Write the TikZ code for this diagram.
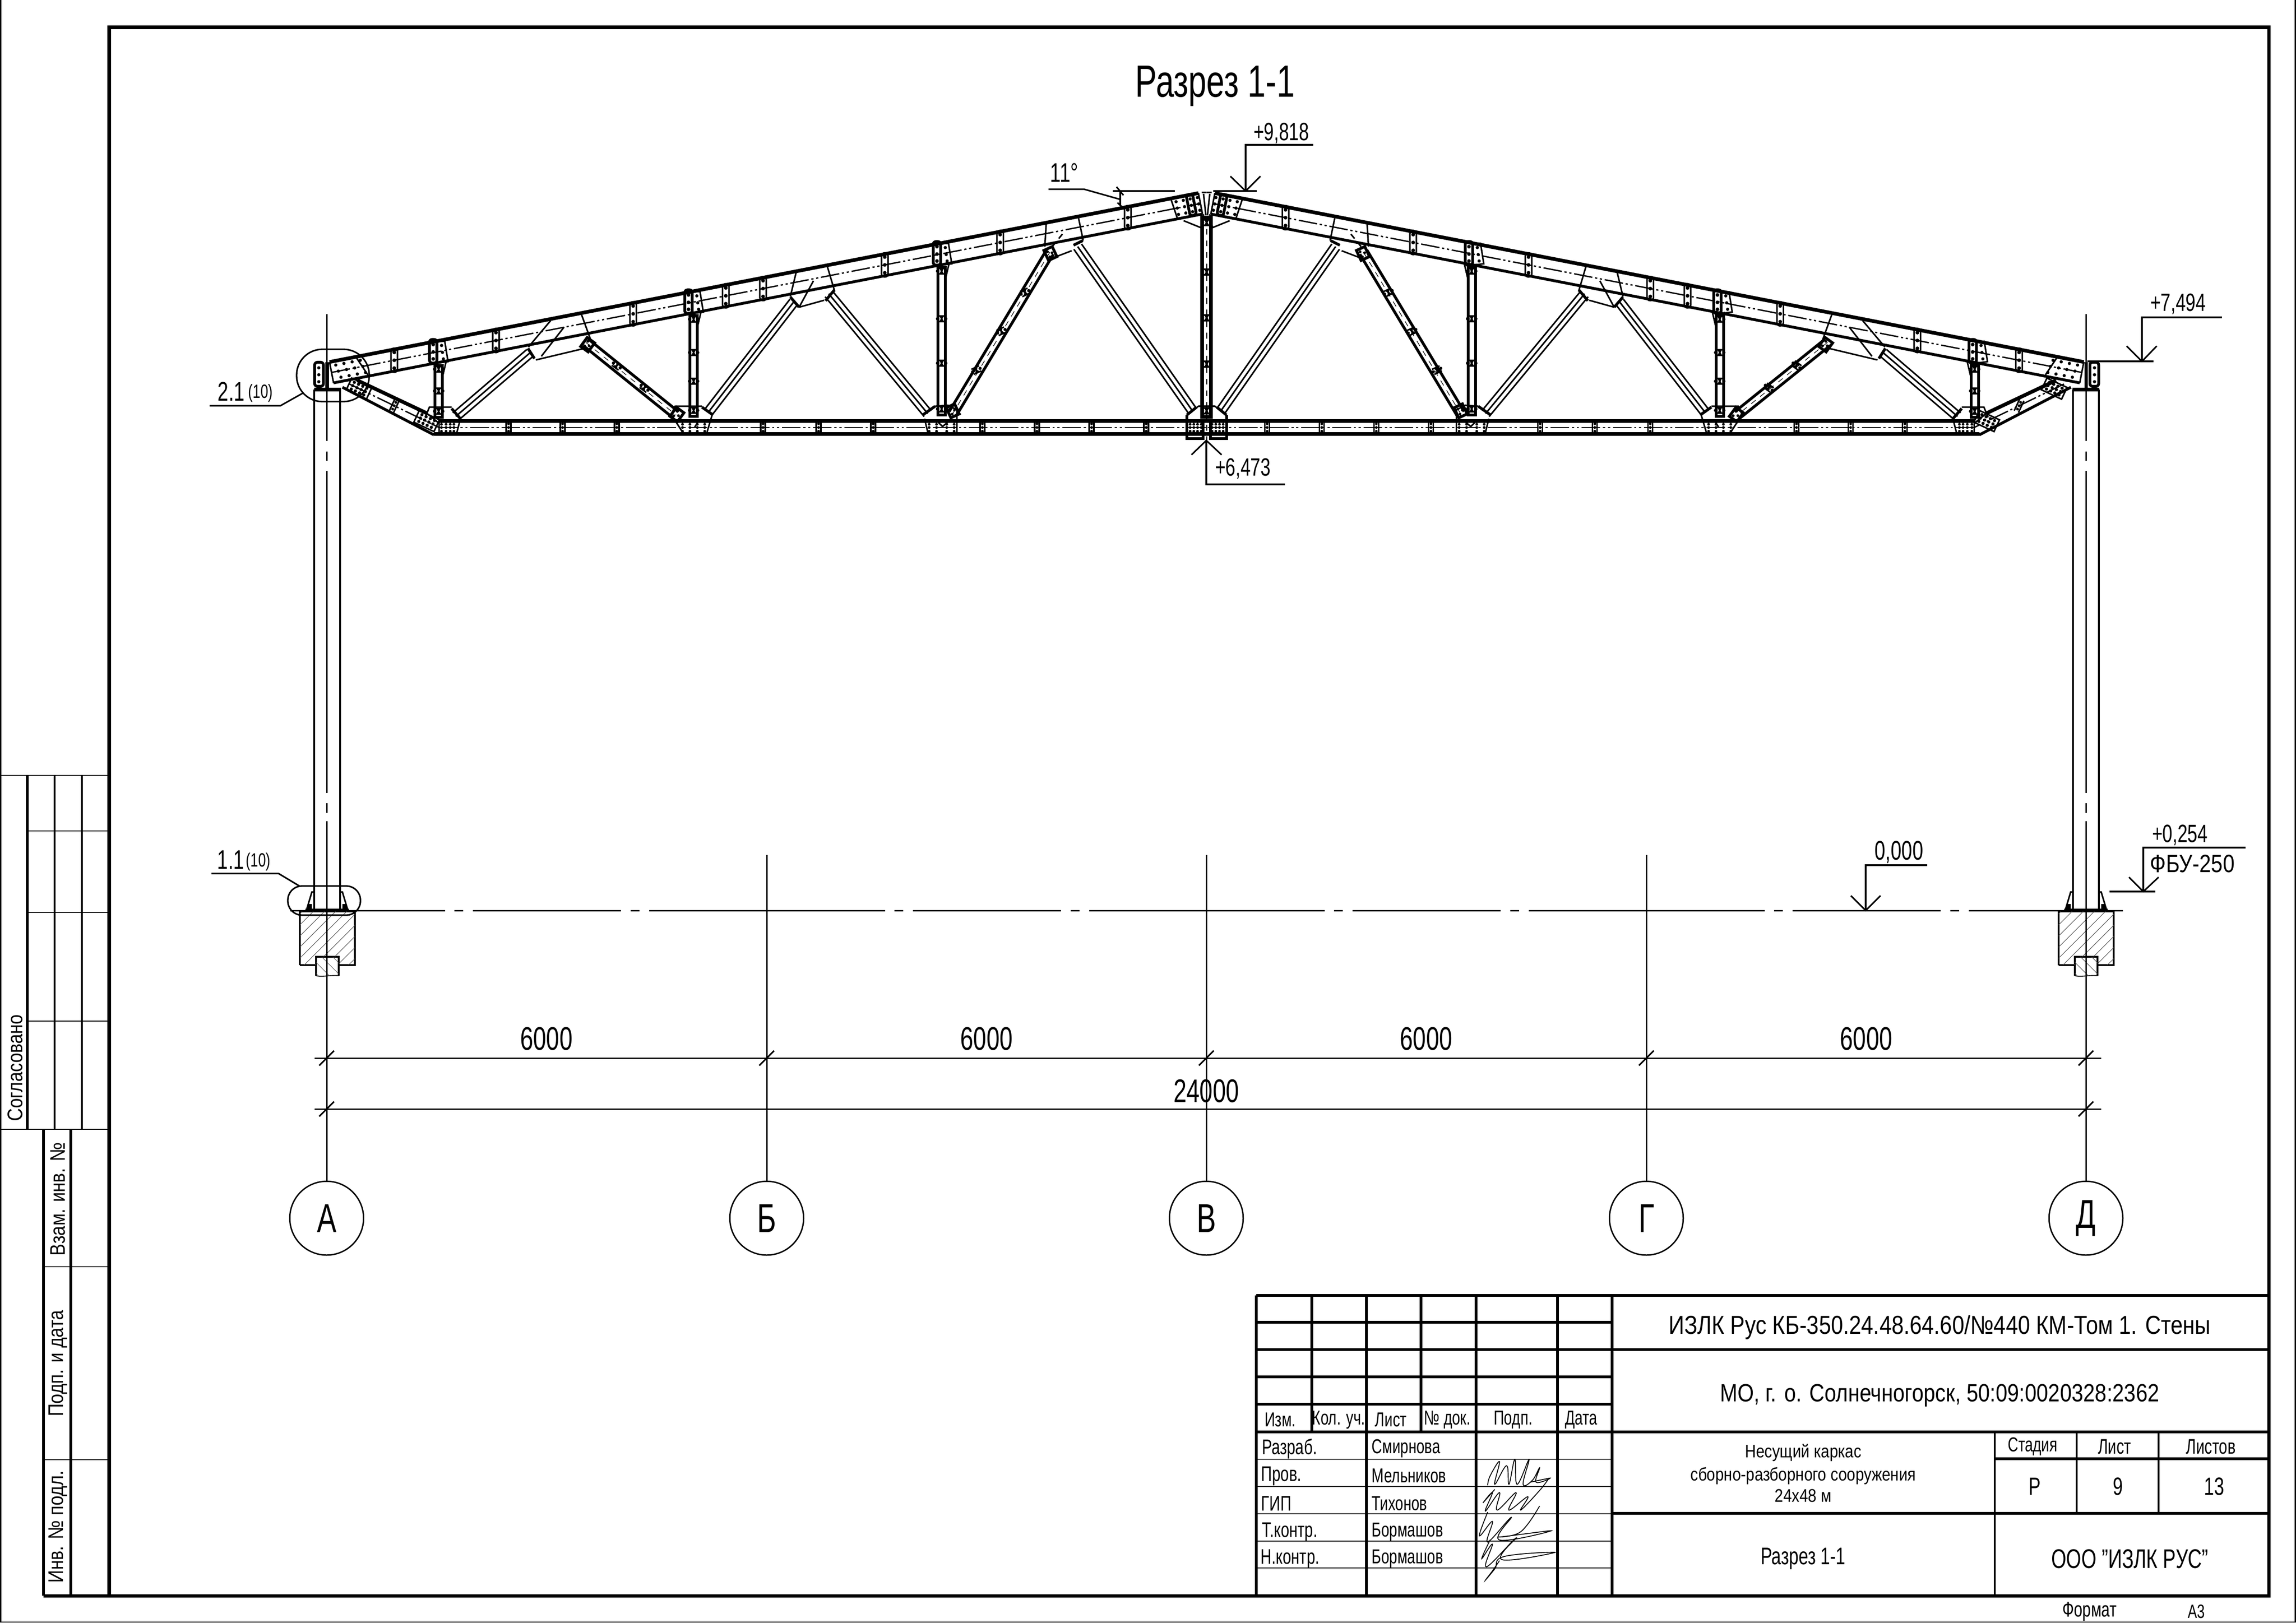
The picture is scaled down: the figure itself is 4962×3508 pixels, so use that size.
\documentclass[tikz,border=0pt]{standalone}
\usepackage{fontspec}
\setmainfont[FakeStretch=0.72]{Liberation Sans}
\newfontfamily\widefont[FakeStretch=0.84]{Liberation Sans}
\usetikzlibrary{calc}

% line weights
\tikzset{
  hairline/.style={line width=0.3pt},
  thinline/.style={line width=0.45pt},
  dimline/.style={line width=0.72pt},
  medline/.style={line width=0.8pt},
  gridline/.style={line width=1.25pt},
  heavyline/.style={line width=1.45pt},
  frameline/.style={line width=1.7pt},
  chordline/.style={line width=1.9pt},
  hatchline/.style={line width=0.25pt, black!70},
  axisline/.style={line width=0.72pt, dash pattern=on 58.9mm off 1.9mm on 1.7mm off 1.9mm, dash phase=35.7mm},
  chainline/.style={line width=0.7pt, dash pattern=on 3.4mm off 0.5mm on 0.4mm off 0.5mm on 0.4mm off 0.5mm},
  lbl/.style={inner sep=0pt, font=\fontsize{#1}{#1}\selectfont},
  lbl/.default=11,
  widelbl/.style={inner sep=0pt, font=\widefont\fontsize{#1}{#1}\selectfont},
  namelbl/.style={lbl=11, anchor=west},
  axisnode/.style={draw, line width=0.72pt, circle, minimum size=13.5mm, inner sep=0pt, font=\fontsize{21}{21}\selectfont},
  % bolted plates
  slot/.pic={
    \draw[medline, rounded corners=0.55mm] (-7,-26) rectangle (7,26);
    \fill (0,-17) circle (4) (0,0) circle (4) (0,17) circle (4);
  },
  dblslot/.pic={
    \draw[heavyline, rounded corners=0.5mm] (-16,-27) rectangle (0,24);
    \draw[medline] (0,-23) -- (17,-23) -- (24,21) -- (0,24);
    \fill (-8,-16) circle (4) (-8,0) circle (4) (-8,15) circle (4);
    \fill (10,-14) circle (3.5) (12,1) circle (3.5) (14,15) circle (3.5);
  },
  webspacer/.pic={
    \draw[medline] (-9,-6) -- (9,-6) (-9,6) -- (9,6) (-3,-6) -- (3,6) (3,-6) -- (-3,6);
    \fill (-9,0) circle (3.5) (9,0) circle (3.5);
  },
  chordspacer/.pic={
    \draw[medline] (-5,-14) -- (-5,14) (5,-14) -- (5,14);
    \fill (0,-8) circle (3) (0,0) circle (3) (0,8) circle (3);
  },
  endbox/.pic={
    \draw[heavyline] (-10,-12) rectangle (10,12);
    \fill (-4,-6) circle (3) (4,0) circle (3) (-4,6) circle (3);
  },
  tailplate/.pic={
    \draw[medline] (-24,-14) rectangle (24,14);
    \foreach \px in {-15,-5,5,15}{
      \foreach \py in {-8,0,8}{
        \fill (\px,\py) circle (3.5);
      }
    }
  },
  footing/.pic={
    \draw[chordline] (-47,0) -- (47,0);
    \draw[medline] (-44,-3) -- (-33,-40) -- (-28,-40) (44,-3) -- (33,-40) -- (28,-40);
    \fill (-42,-14) rectangle (-33,-2) (42,-14) rectangle (33,-2);
    \draw[medline] (-59,118) -- (-59,2) -- (60,2) -- (60,118) -- (25,118) (-24,118) -- (-59,118);
    \draw[medline] (-24,141) -- (-24,100) -- (25,100) -- (25,141);
    \draw[thinline] (-24,141) .. controls (-10,144) and (10,139) .. (25,141);
    \begin{scope}
      \clip (-59,2) -- (60,2) -- (60,118) -- (25,118) -- (25,100) -- (-24,100) -- (-24,118) -- (-59,118) -- cycle;
      \foreach \hd in {-170,-146,...,60}{
        \draw[hatchline] (\hd,118) -- (\hd+116,2);
      }
    \end{scope}
    \begin{scope}
      \clip (-24,100) rectangle (25,141);
      \foreach \hd in {-60,-36,...,30}{
        \draw[hatchline] (\hd,100) -- (\hd+41,141);
      }
    \end{scope}
  }
}

\newcommand{\lightbar}[2]{
  \draw[medline] ($(#1)!0.85mm!90:(#2)$) -- ($(#2)!0.85mm!-90:(#1)$)
    ($(#1)!0.85mm!-90:(#2)$) -- ($(#2)!0.85mm!90:(#1)$) (#1) -- (#2);
}
\newcommand{\heavybar}[2]{
  \draw[heavyline] ($(#1)!0.75mm!90:(#2)$) -- ($(#2)!0.75mm!-90:(#1)$)
    ($(#1)!0.75mm!-90:(#2)$) -- ($(#2)!0.75mm!90:(#1)$);
  \draw[hairline, dashed] (#1) -- (#2);
}

% half of the truss, drawn twice
\newcommand{\halftruss}{
  % top chord
  \begin{scope}[shift={(716.5,805)},rotate=11]
    \draw[chordline] (0,-23) -- (1913,-23);
    \draw[heavyline] (0,23) -- (1913,23);
    \draw[chainline] (0,0) -- (1913,0);
    \foreach \su in {138,362,664,868,950,1218,1472,1753}{
      \pic at (\su,0) {slot};
    }
    \foreach \su in {232,794,1341}{
      \pic at (\su,0) {dblslot};
    }
    % end plate
    \draw[medline] (0,-23) -- (0,23) (58,-23) -- (76,20);
    \foreach \su in {12,30,48,66}{
      \fill (\su,-14) circle (3.5) (\su+3,0) circle (3.5) (\su+6,14) circle (3.5);
    }
    % ridge plate
    \draw[medline] (1852,-23) -- (1858,23);
    \draw[heavyline, rounded corners=0.5mm] (1886,-24) rectangle (1900,22);
    \foreach \su in {1862,1878,1893,1909}{
      \fill (\su,-14) circle (3.5) (\su,0) circle (3.5) (\su,14) circle (3.5);
    }
    \draw[medline] (1913,-23) -- (1913,23);
  \end{scope}
  % ridge
  \draw[medline] (2597,416) -- (2607.5,416) (2601,419) -- (2606,465);
  \draw[medline] (2558,477) -- (2595,492) -- (2601,463);
  % bottom chord
  \draw[chordline] (949,910) -- (2607.5,910);
  \draw[chordline] (938,938) -- (2607.5,938);
  \draw[chainline] (949,924) -- (2607.5,924);
  \foreach \sx in {1099,1216,1333,1649,1769,1887,2123,2241,2359,2477}{
    \pic at (\sx,924) {chordspacer};
  }
  % tail brace
  \draw[chordline] (772,822) -- (922,893);
  \draw[heavyline] (740,837) -- (938,940);
  \draw[chainline] (755,830) -- (949,924);
  \draw[medline] (949,910) -- (949,938) (922,893) -- (949,915);
  \pic[rotate=-25] at (776,840) {tailplate};
  \pic[rotate=-25] at (922,910) {tailplate};
  \pic[rotate=-25] at (852,877) {chordspacer};
  % verticals
  \foreach \vx/\vt/\vb in {948/790/902,1499/682/900,2035/578/897}{
    \draw[heavyline] (\vx-8,\vt) rectangle (\vx+8,\vb);
    \pic at (\vx,\vt+8) {webspacer};
    \pic at (\vx,\vb-13) {webspacer};
    \draw[medline] (\vx-8,\vt+26) -- (\vx-10,\vt-8) (\vx+8,\vt+26) -- (\vx+16,\vt-8);
  }
  \pic at (948,845) {webspacer};
  \pic at (1499,762) {webspacer};
  \pic at (1499,824) {webspacer};
  \pic at (2035,689) {webspacer};
  \pic at (2035,785) {webspacer};
  % middle vertical
  \draw[chordline] (2598,470) rectangle (2617,901);
  \draw[hairline, dashed] (2607.5,470) -- (2607.5,952);
  \foreach \vy in {481,588,687,787,888}{
    \pic at (2607.5,\vy) {webspacer};
  }
  % diagonals
  \lightbar{1145,763}{985,900}
  \heavybar{1266,740}{1461,897}
  \lightbar{1715,653}{1530,892}
  \lightbar{1791,635}{2005,894}
  \heavybar{2269,545}{2059,894}
  \lightbar{2329,533}{2577,888}
  \pic[rotate=-36] at (1333,790) {webspacer};
  \pic[rotate=-36] at (1393,838) {webspacer};
  \pic[rotate=25] at (2215,632) {webspacer};
  \pic[rotate=25] at (2164,716) {webspacer};
  \pic[rotate=25] at (2110,800) {webspacer};
  % joints under the top chord
  \draw[medline] (1190,693) -- (1142,750) (1256,678) -- (1276,733) (1158,778) -- (1263,753) (1219,707) -- (1170,770);
  \draw[heavyline] (1141,753) -- (1155,775);
  \pic[rotate=-36] at (1270,745) {endbox};
  \draw[medline] (1721,587) -- (1708,641) (1788,576) -- (1804,630) (1727,664) -- (1781,649) (1758,607) -- (1727,664);
  \draw[heavyline] (1708,642) -- (1727,664) (1784,650) -- (1803,627);
  \draw[medline] (2331,472) -- (2341,520) (2261,483) -- (2258,533) (2316,542) -- (2274,558);
  \draw[medline, dashed] (2296,506) -- (2274,533);
  \draw[heavyline] (2320,530) -- (2340,520);
  \pic[rotate=25] at (2270,548) {endbox};
  % joints on the bottom chord
  \draw[medline] (919,902) -- (928,880) -- (976,880) (995,905) -- (986,940);
  \draw[heavyline] (976,883) -- (995,905);
  \foreach \bx in {954,964,973,981}{
    \fill (\bx,917) circle (3) (\bx,924) circle (3) (\bx,932) circle (3);
  }
  \draw[medline] (1450,897) -- (1459,878) -- (1517,878) (1459,909) -- (1475,934) (1539,897) -- (1528,934) (1510,909) -- (1501,924);
  \draw[heavyline] (1517,880) -- (1541,897);
  \pic[rotate=-36] at (1463,896) {endbox};
  \draw[medline] (2021,878) -- (2049,876) -- (2068,886) -- (2068,938) (1998,905) -- (2005,934) (2024,909) -- (2037,922) -- (2052,909);
  \draw[heavyline] (2021,878) -- (1994,897);
  \pic[rotate=25] at (2059,888) {endbox};
  \foreach \bx in {1475,1491,1507,1523,2008,2024,2046,2062}{
    \fill (\bx,917) circle (3) (\bx,924) circle (3) (\bx,932) circle (3);
  }
  % middle joint
  \draw[medline] (2565,897) -- (2590,878) -- (2625,878);
  \draw[heavyline] (2586,880) -- (2565,897);
  \draw[heavyline] (2565,897) -- (2565,948) -- (2600,948) -- (2600,910);
  \foreach \bx in {2572,2580,2588,2596}{
    \fill (\bx,917) circle (3) (\bx,924) circle (3) (\bx,932) circle (3);
  }
  % column head
  \draw[chordline] (707,783) -- (707,842);
  \draw[chordline] (679,842) -- (737,842);
  \draw[heavyline, rounded corners=0.5mm] (680,783) rectangle (699,835);
  \fill (689,795) circle (3.5) (689,810) circle (3.5) (689,825) circle (3.5);
}

\begin{document}
\begin{tikzpicture}[x=0.08464mm, y=-0.08464mm]
  \useasboundingbox (0,0) rectangle (4962,3508);
  % sheet frame
  \draw[line width=0.7pt] (1.5,0) -- (1.5,3506) -- (4960,3506) -- (4960,0);
  \draw[frameline] (236,59) rectangle (4903,3449);
  \node[lbl=23.5] (title) at (2626,186) {Разрез 1-1};

  % truss
  \begin{scope}
    \halftruss
  \end{scope}
  \begin{scope}[shift={(5215.5,0)},xscale=-1]
    \halftruss
  \end{scope}

  % columns and footings
  \foreach \cx in {707,4508}{
    \draw[medline] (\cx-28,842) -- (\cx-28,1968) (\cx+28,842) -- (\cx+28,1968);
    \pic at (\cx,1968) {footing};
  }
  % level line, broken bay by bay
  \draw[dimline] (627,1968) -- (962,1968) (4508,1968) -- (4588,1968);
  \foreach \bx in {706,1657,2607,3558}{
    \draw[dimline] (\bx+276,1968) -- (\bx+295,1968) (\bx+316,1968) -- (\bx+636,1968);
    \draw[dimline] (\bx+657,1968) -- (\bx+676,1968) (\bx+697,1968) -- (\bx+950,1968);
  }
  \draw[dimline] (1657,1968) -- (1913,1968) (2607,1968) -- (2863,1968) (3558,1968) -- (3814,1968);

  % axes
  \node[axisnode] (axisA) at (706,2633) {А};
  \node[axisnode] (axisB) at (1657,2633) {Б};
  \node[axisnode] (axisV) at (2607,2633) {В};
  \node[axisnode] (axisG) at (3558,2633) {Г};
  \node[axisnode] (axisD) at (4508,2633) {Д};
  \draw[axisline] (706,679) -- (706,1775);
  \draw[axisline] (4508,679) -- (4508,1775);
  \draw[dimline] (706,1775) -- (axisA.north);
  \draw[dimline] (4508,1775) -- (axisD.north);
  \draw[dimline] (1657,1848) -- (axisB.north);
  \draw[dimline] (2607,1848) -- (axisV.north);
  \draw[dimline] (3558,1848) -- (axisG.north);

  % dimensions
  \draw[dimline] (680,2287) -- (4541,2287);
  \draw[dimline] (680,2397) -- (4541,2397);
  \foreach \tx in {706,1657,2607,3558,4508}{
    \draw[medline] (\tx-16,2303) -- (\tx+16,2271);
  }
  \foreach \tx in {706,4508}{
    \draw[medline] (\tx-16,2413) -- (\tx+16,2381);
  }
  \node[lbl=17] (dimA) at (1181,2245) {6000};
  \node[lbl=17] (dimB) at (2132,2245) {6000};
  \node[lbl=17] (dimC) at (3082,2245) {6000};
  \node[lbl=17] (dimD) at (4033,2245) {6000};
  \node[lbl=17] (dimall) at (2607,2358) {24000};

  % levels
  \node[lbl=13] (lvlridge) at (2769,288) {+9,818};
  \draw[medline] (2838,313) -- (2692,313) -- (2692,413);
  \draw[medline] (2659,381) -- (2692,413) -- (2724,381);
  \draw[medline] (2622,413) -- (2716,413);

  \node[lbl=13] (lvlchord) at (2686,1013) {+6,473};
  \draw[medline] (2777,1047) -- (2607,1047) -- (2607,952);
  \draw[medline] (2575,983) -- (2607,952) -- (2640,983);

  \node[lbl=13] (lvleave) at (4707,657) {+7,494};
  \draw[medline] (4802,686) -- (4629,686) -- (4629,781);
  \draw[medline] (4596,748) -- (4629,781) -- (4661,748);
  \draw[medline] (4511,781) -- (4654,781);

  \node[lbl=13] (lvlbase) at (4711,1805) {+0,254};
  \node[widelbl=13] (lvlfbu) at (4738,1867) {ФБУ-250};
  \draw[medline] (4853,1832) -- (4632,1832) -- (4632,1927);
  \draw[medline] (4601,1896) -- (4632,1927) -- (4665,1896);
  \draw[medline] (4559,1927) -- (4658,1927);

  \node[lbl=14] (lvlzero) at (4104,1842) {0,000};
  \draw[medline] (4165,1870) -- (4032,1870) -- (4032,1968);
  \draw[medline] (4000,1936) -- (4032,1968) -- (4064,1936);

  % slope
  \node[lbl=14] (slope) at (2300,373) {11°};
  \draw[medline] (2266,409) -- (2343,409) -- (2421,431);
  \draw[medline] (2405,413) -- (2539,413) (2421,413) -- (2421,445);
  \draw[medline] (2413,404) -- (2428,422) (2415,438) -- (2428,450);

  % node marks
  \draw[medline, rounded corners=4.7mm] (641,755) rectangle (798,868);
  \draw[medline] (453,877) -- (606,877) -- (654,850);
  \node[lbl=14] (markhead) at (500,846) {2.1};
  \node[lbl=10] (markheadn) at (563,850) {(10)};
  \draw[medline, rounded corners=2.6mm] (622,1915) rectangle (779,1978);
  \draw[medline] (457,1888) -- (602,1888) -- (647,1915);
  \node[lbl=14] (markfoot) at (499,1858) {1.1};
  \node[lbl=10] (markfootn) at (558,1863) {(10)};

  % side stamp
  \draw[thinline] (3,1676) -- (235,1676);
  \draw[thinline] (3,2441) -- (235,2441);
  \foreach \ry in {1796,1972,2207}{
    \draw[thinline] (59,\ry) -- (235,\ry);
  }
  \draw[heavyline] (59,1676) -- (59,2441);
  \draw[medline] (118,1676) -- (118,2441) (177,1676) -- (177,2441);
  \draw[heavyline] (94,2441) -- (94,3449) (153,2441) -- (153,3449);
  \draw[frameline] (94,3449) -- (236,3449);
  \draw[thinline] (94,2738) -- (235,2738) (94,3155) -- (235,3155);
  \node[widelbl=11, rotate=90] (stampA) at (33,2308) {Согласовано};
  \node[widelbl=11, rotate=90] (stampB) at (125,2592) {Взам. инв. №};
  \node[widelbl=11, rotate=90] (stampC) at (125,2947) {Подп. и дата};
  \node[widelbl=11, rotate=90] (stampD) at (125,3300) {Инв. № подл.};

  % title block
  \foreach \ry in {2800,2858,2917,2976,3035,3095}{
    \draw[gridline] (2715,\ry) -- (3484,\ry);
  }
  \foreach \ry in {3154,3213,3272,3331,3389}{
    \draw[thinline] (2715,\ry) -- (3484,\ry);
  }
  \foreach \cx in {2715,2953,3190,3366,3484}{
    \draw[gridline] (\cx,2800) -- (\cx,3449);
  }
  \foreach \cx in {2835,3071}{
    \draw[gridline] (\cx,2800) -- (\cx,3095);
  }
  \draw[gridline] (3484,2800) -- (4903,2800) (3484,2917) -- (4903,2917) (3484,3095) -- (4903,3095) (3484,3271) -- (4903,3271) (4311,3153) -- (4903,3153);
  \draw[medline] (4311,3095) -- (4311,3449) (4488,3095) -- (4488,3271) (4665,3095) -- (4665,3271);

  \node[lbl=10.5] (hdA) at (2767,3069) {Изм.};
  \node[lbl=10.5] (hdB) at (2893,3069) {Кол. уч.};
  \node[lbl=10.5] (hdC) at (3006,3069) {Лист};
  \node[lbl=10.5] (hdD) at (3128,3069) {№ док.};
  \node[lbl=10.5] (hdE) at (3270,3069) {Подп.};
  \node[lbl=10.5] (hdF) at (3417,3069) {Дата};

  \node[namelbl] (roleA) at (2727,3131) {Разраб.};
  \node[namelbl] (roleB) at (2725,3190) {Пров.};
  \node[namelbl] (roleC) at (2725,3250) {ГИП};
  \node[namelbl] (roleD) at (2727,3311) {Т.контр.};
  \node[namelbl] (roleE) at (2724,3369) {Н.контр.};
  \node[lbl=10.5, anchor=west] (nameA) at (2964,3131) {Смирнова};
  \node[lbl=10.5, anchor=west] (nameB) at (2964,3190) {Мельников};
  \node[lbl=10.5, anchor=west] (nameC) at (2964,3250) {Тихонов};
  \node[lbl=10.5, anchor=west] (nameD) at (2964,3311) {Бормашов};
  \node[lbl=10.5, anchor=west] (nameE) at (2964,3369) {Бормашов};

  % signatures
  \begin{scope}[shift={(2700,2780)},xscale=0.51,yscale=0.446]
    \draw[thinline] plot[smooth, tension=0.7] coordinates {(1010,965) (1020,920) (1060,850) (1040,960) (1090,870) (1100,960) (1125,840) (1135,960) (1185,840) (1160,960) (1200,940) (1230,880) (1215,950) (1275,930) (1190,950)};
    \draw[thinline] plot[smooth, tension=0.7] coordinates {(1040,985) (990,1050) (1030,1000) (1000,1090) (1060,1000) (1050,1085) (1130,1000) (1100,1085) (1180,1020) (1150,1085) (1230,990) (1270,930)};
    \draw[thinline] plot[smooth, tension=0.7] coordinates {(1010,1095) (975,1210) (1030,1140) (1010,1240) (1110,1120) (1060,1230) (1280,1185) (1060,1215) (1150,1190) (1230,1065)};
    \draw[thinline] plot[smooth, tension=0.7] coordinates {(1020,1230) (985,1320) (1030,1250) (1005,1360) (1130,1220) (1070,1325) (1295,1290) (1080,1310) (1040,1370) (1000,1425) (1030,1380) (1060,1330)};
  \end{scope}

  \node[widelbl=13.5] (docno) at (4192,2869) {ИЗЛК Рус КБ-350.24.48.64.60/№440 КМ-Том 1. Стены};
  \node[widelbl=13] (site) at (4192,3016) {МО, г. о. Солнечногорск, 50:09:0020328:2362};
  \node[widelbl=9.5] (workA) at (3897,3140) {Несущий каркас};
  \node[widelbl=9.5] (workB) at (3897,3190) {сборно-разборного сооружения};
  \node[widelbl=9.5] (workC) at (3897,3233) {24х48 м};
  \node[lbl=12.5] (sheetname) at (3897,3369) {Разрез 1-1};
  \node[lbl=14] (firm) at (4603,3369) {ООО "ИЗЛК РУС"};
  \node[lbl=10.5] (stageh) at (4393,3127) {Стадия};
  \node[lbl=11] (sheeth) at (4570,3127) {Лист};
  \node[lbl=11] (sheetsh) at (4778,3127) {Листов};
  \node[lbl=13] (stage) at (4397,3213) {Р};
  \node[lbl=13] (sheet) at (4577,3213) {9};
  \node[lbl=13] (sheets) at (4785,3213) {13};
  \node[lbl=11] (fmt) at (4516,3483) {Формат};
  \node[lbl=10] (fmtval) at (4747,3483) {А3};
\end{tikzpicture}
\end{document}
